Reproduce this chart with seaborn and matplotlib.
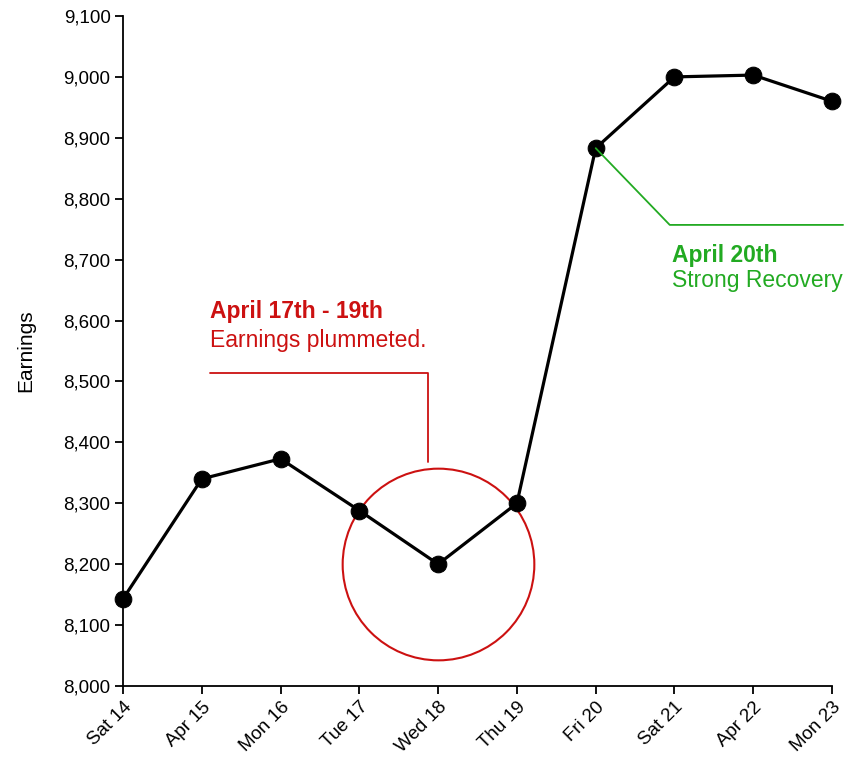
import matplotlib
matplotlib.use('Agg')
import matplotlib.pyplot as plt
import matplotlib.ticker as mticker
import seaborn as sns
import pandas as pd

days = ['Sat 14', 'Apr 15', 'Mon 16', 'Tue 17', 'Wed 18',
        'Thu 19', 'Fri 20', 'Sat 21', 'Apr 22', 'Mon 23']
earnings = [8143, 8340, 8373, 8288, 8200, 8300, 8883, 9000, 9003, 8960]

df = pd.DataFrame({'pos': range(len(days)), 'Earnings': earnings})

sns.set_style('ticks')
plt.rcParams['font.family'] = ['Liberation Sans', 'DejaVu Sans']

fig = plt.figure(figsize=(8.46, 7.58), dpi=100)
ax = fig.add_axes([0.1454, 0.095, 0.8381, 0.8839])

sns.lineplot(data=df, x='pos', y='Earnings', color='black', linewidth=2.3,
             marker='o', markersize=12, markeredgecolor='black', ax=ax, clip_on=False)

ax.set_xlim(0, len(days) - 1)
ax.set_ylim(8000, 9100)
ax.set_yticks(range(8000, 9101, 100))
ax.yaxis.set_major_formatter(mticker.StrMethodFormatter('{x:,.0f}'))
ax.set_xticks(df['pos'])
ax.set_xticklabels(days, rotation=45, ha='right', rotation_mode='anchor')
ax.tick_params(labelsize=13.5, length=6, width=1.3, pad=3, color='black', labelcolor='black')
ax.set_xlabel('')
ax.set_ylabel('Earnings', fontsize=15, labelpad=20, color='black')
sns.despine(ax=ax)
for s in ['left', 'bottom']:
    ax.spines[s].set_linewidth(1.3)
    ax.spines[s].set_color('black')

red = '#cc1111'
green = '#22aa22'

# circle round the dip
ax.plot(df['pos'][4], earnings[4], marker='o', markersize=138, mfc='none',
        mec=red, mew=1.5, clip_on=False, zorder=1)

# red annotation
ax.plot([1.10, 3.87, 3.87], [8514, 8514, 8368], color=red, lw=1.3, clip_on=False)
ax.text(1.11, 8604, 'April 17th - 19th', color=red, fontsize=16.5, fontweight='bold')
ax.text(1.11, 8556, 'Earnings plummeted.', color=red, fontsize=16.5)

# green annotation
ax.plot([6, 6.94, 9.14], [earnings[6], 8757, 8757], color=green, lw=1.3, clip_on=False)
ax.text(6.97, 8696, 'April 20th', color=green, fontsize=16.5, fontweight='bold')
ax.text(6.97, 8655, 'Strong Recovery', color=green, fontsize=16.5)

fig.savefig('out.png', dpi=100)
